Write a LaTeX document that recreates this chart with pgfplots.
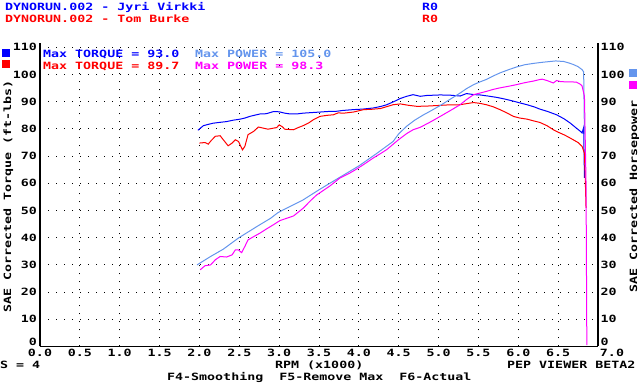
\documentclass[border=0pt]{standalone}
\usepackage{pgfplots}
\pgfplotsset{compat=1.18}
\usepackage{fontspec}
\newfontfamily\pix[FakeStretch=1.33]{DejaVu Sans Mono}
\newcommand\pf{\pix\bfseries\fontsize{10bp}{12bp}\selectfont}
\definecolor{cblue}{RGB}{0,0,255}
\definecolor{clblue}{RGB}{100,149,237}
\definecolor{cred}{RGB}{255,0,0}
\definecolor{cmag}{RGB}{255,0,255}
\begin{document}
\begin{tikzpicture}
\path[use as bounding box] (0,0) rectangle (639bp,389bp);
\begin{axis}[
  at={(40bp,42.5bp)}, anchor=south west,
  scale only axis, width=558bp, height=303.5bp,
  xmin=0, xmax=7, ymin=0, ymax=111.6,
  axis x line*=bottom, axis y line*=left,
  axis line style={black, line width=1.5bp},
  xtick={0,0.5,...,6.5},
  extra x ticks={7}, extra x tick labels={7.0},
  extra x tick style={grid=none, xticklabel style={xshift=14bp}},
  ytick={10,20,...,110},
  extra y ticks={0}, extra y tick labels={0},
  extra y tick style={grid=none, yticklabel style={yshift=4.5bp}},
  major tick length=0pt,
  grid=major,
  major grid style={black, line width=1bp, dash pattern=on 1bp off 7bp},
  /pgf/number format/assume math mode=true,
  xticklabel={\pgfmathprintnumber[fixed,fixed zerofill,precision=1]{\tick}},
  tick label style={font=\pf, black},
  xticklabel style={anchor=north, inner sep=0pt, yshift=-2.5bp},
  yticklabel style={anchor=east, inner sep=0pt, xshift=-3bp},
  every axis plot/.append style={no marks, line width=1bp, sharp plot},
  clip=false,
]
\addplot[cblue] coordinates {
(1.98,79.5) (2.05,81.2) (2.10,81.6) (2.17,82.1) (2.25,82.4) (2.34,82.7) (2.42,83.2) (2.51,83.6) (2.57,84.0) (2.63,84.6) (2.70,85.1) (2.76,85.5) (2.84,85.6) (2.93,86.4) (3.00,86.3) (3.07,85.8) (3.14,85.5) (3.22,85.5) (3.30,85.8) (3.40,86.0) (3.51,86.2) (3.60,86.4) (3.72,86.5) (3.80,86.8) (3.93,87.1) (4.05,87.3) (4.18,87.7) (4.28,88.3) (4.35,88.9) (4.45,90.2) (4.52,91.2) (4.60,92.0) (4.68,92.6) (4.77,92.0) (4.85,92.3) (5.02,92.5) (5.15,92.4) (5.27,92.1) (5.35,93.0) (5.45,92.6) (5.52,92.5) (5.62,92.1) (5.73,91.6) (5.83,91.0) (5.94,90.2) (6.03,89.5) (6.11,88.9) (6.20,88.1) (6.27,87.3) (6.37,86.4) (6.48,85.2) (6.57,83.8) (6.65,82.2) (6.72,80.5) (6.78,79.1) (6.80,78.5) (6.82,80.5) (6.83,62.0)
};
\addplot[cred] coordinates {
(2.00,74.8) (2.07,75.0) (2.11,74.4) (2.15,75.8) (2.20,77.3) (2.26,77.5) (2.30,76.0) (2.36,73.8) (2.41,74.8) (2.45,76.0) (2.49,75.4) (2.54,72.3) (2.57,73.6) (2.61,77.9) (2.68,79.1) (2.74,80.7) (2.80,80.3) (2.86,79.9) (2.93,80.3) (2.97,80.5) (3.00,81.5) (3.04,80.8) (3.07,79.9) (3.18,79.7) (3.24,80.5) (3.30,81.2) (3.37,82.2) (3.43,83.4) (3.51,84.6) (3.60,85.0) (3.68,85.2) (3.74,85.9) (3.81,85.8) (3.93,86.2) (4.06,87.1) (4.15,87.2) (4.27,87.5) (4.35,88.2) (4.43,88.9) (4.52,89.2) (4.62,88.7) (4.73,88.3) (4.85,88.4) (4.98,88.6) (5.10,88.8) (5.27,88.9) (5.35,89.3) (5.44,89.7) (5.52,89.4) (5.60,88.9) (5.68,88.2) (5.77,87.1) (5.85,86.0) (5.94,84.6) (6.02,84.0) (6.11,83.6) (6.20,82.9) (6.27,82.4) (6.36,81.2) (6.44,79.7) (6.50,78.8) (6.57,77.9) (6.63,77.0) (6.69,76.0) (6.75,75.0) (6.80,73.6) (6.83,71.0) (6.84,62.0) (6.85,51.0)
};
\addplot[clblue] coordinates {
(1.97,30.0) (2.14,33.1) (2.30,35.8) (2.49,39.9) (2.72,44.1) (2.89,47.1) (2.99,49.3) (3.09,50.8) (3.30,53.9) (3.51,57.8) (3.72,61.5) (4.00,66.4) (4.22,70.9) (4.43,75.4) (4.50,78.2) (4.60,81.0) (4.70,83.2) (4.80,85.0) (4.90,86.6) (5.02,88.6) (5.15,91.0) (5.27,93.2) (5.35,94.8) (5.44,96.3) (5.52,97.3) (5.60,98.2) (5.68,99.4) (5.77,100.6) (5.88,101.8) (5.98,102.8) (6.08,103.6) (6.19,104.1) (6.30,104.5) (6.40,104.8) (6.47,105.0) (6.57,104.8) (6.63,104.3) (6.69,103.7) (6.75,102.9) (6.80,101.8) (6.82,101.0) (6.83,78.0)
};
\addplot[cmag] coordinates {
(2.01,28.2) (2.07,29.7) (2.14,30.0) (2.20,31.9) (2.26,33.1) (2.34,32.9) (2.41,33.7) (2.45,35.5) (2.49,35.5) (2.53,34.5) (2.57,36.8) (2.61,39.2) (2.68,40.4) (2.76,41.7) (2.84,43.2) (2.93,44.8) (3.01,46.3) (3.10,47.2) (3.18,48.0) (3.30,50.8) (3.40,53.8) (3.47,55.7) (3.56,57.5) (3.64,59.1) (3.76,61.9) (3.87,63.5) (3.97,65.2) (4.08,67.3) (4.18,69.3) (4.27,70.9) (4.35,72.4) (4.50,76.1) (4.60,78.3) (4.68,79.7) (4.77,80.6) (4.90,82.6) (5.02,84.6) (5.15,86.8) (5.27,88.9) (5.35,90.8) (5.44,92.6) (5.52,93.2) (5.60,93.8) (5.68,94.5) (5.77,95.1) (5.88,95.7) (5.98,96.3) (6.08,97.0) (6.19,97.6) (6.26,98.1) (6.30,98.3) (6.36,97.8) (6.44,96.9) (6.48,97.8) (6.53,97.4) (6.61,97.3) (6.67,97.3) (6.73,97.2) (6.78,96.4) (6.80,95.8) (6.83,92.0) (6.85,60.0) (6.86,0.5)
};
\end{axis}
\begin{axis}[
  at={(40bp,42.5bp)}, anchor=south west,
  scale only axis, width=558bp, height=303.5bp,
  xmin=0, xmax=7, ymin=0, ymax=111.6,
  axis y line*=right, axis x line=none,
  axis line style={black, line width=1.5bp},
  ytick={10,20,...,110},
  extra y ticks={0}, extra y tick labels={0},
  extra y tick style={yticklabel style={yshift=4.5bp}},
  major tick length=0pt,
  /pgf/number format/assume math mode=true,
  tick label style={font=\pf, black},
  yticklabel style={anchor=west, inner sep=0pt, xshift=2.5bp},
]
\end{axis}
\begin{scope}[every node/.style={inner sep=0pt, font=\pf}]
\node[anchor=base west, text=cblue] at (5bp,378bp) {DYNORUN.002 - Jyri Virkki};
\node[anchor=base west, text=cblue] at (422bp,378bp) {R0};
\node[anchor=base west, text=cred] at (5bp,366bp) {DYNORUN.002 - Tom Burke};
\node[anchor=base west, text=cred] at (422bp,366bp) {R0};
\fill[cblue] (2bp,332bp) rectangle (10bp,340bp);
\fill[cred] (2bp,321bp) rectangle (10bp,329bp);
\fill[clblue] (629bp,312bp) rectangle (637bp,320bp);
\fill[cmag] (629bp,300bp) rectangle (637bp,308bp);
\node[anchor=base west, text=cblue] at (43bp,331bp) {Max TORQUE = 93.0};
\node[anchor=base west, text=clblue] at (195bp,331bp) {Max POWER = 105.0};
\node[anchor=base west, text=cred] at (43bp,319bp) {Max TORQUE = 89.7};
\node[anchor=base west, text=cmag] at (195bp,319bp) {Max POWER = 98.3};
\node[anchor=base west, rotate=90] at (11bp,76bp) {SAE Corrected Torque (ft-lbs)};
\node[anchor=base west, rotate=90] at (637bp,96bp) {SAE Corrected Horsepower};
\node[anchor=base west] at (0bp,21bp) {S = 4};
\node[anchor=base west] at (275bp,21bp) {RPM (x1000)};
\node[anchor=base west] at (507bp,21bp) {PEP VIEWER BETA2};
\node[anchor=base west] at (167bp,9bp) {F4-Smoothing\ \ F5-Remove Max\ \ F6-Actual};
\end{scope}
\end{tikzpicture}
\end{document}
